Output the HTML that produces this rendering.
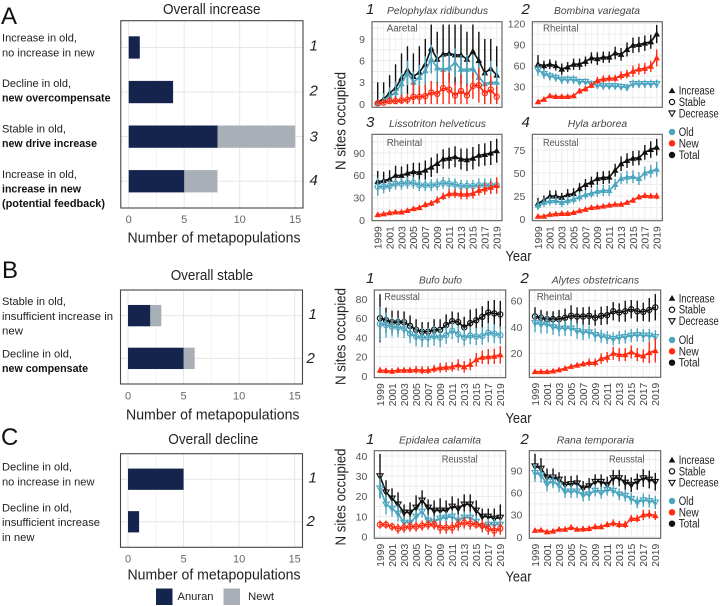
<!DOCTYPE html>
<html lang="en">
<head>
<meta charset="utf-8">
<title>Metapopulation trends</title>
<style>
html,body{margin:0;padding:0;background:#fff;}
body{width:721px;height:606px;overflow:hidden;}
svg{display:block;font-family:"Liberation Sans",sans-serif;}
.lab{font-size:11px;fill:#222;}
.b{font-weight:bold;fill:#111;}
.ttl{font-size:14.5px;fill:#222;}
.letter{font-size:24px;fill:#111;}
.num{font-size:15px;font-style:italic;fill:#222;}
.leg{font-size:11.5px;fill:#222;}
</style>
</head>
<body>
<svg id="fig" xmlns="http://www.w3.org/2000/svg" width="721" height="606" viewBox="0 0 721 606">
<g>
<text class="letter" x="1" y="24">A</text>
<text class="letter" x="2" y="278">B</text>
<text class="letter" x="1" y="445">C</text>
</g>
<g>
<text class="lab" x="2" y="41.5" textLength="75" lengthAdjust="spacingAndGlyphs">Increase in old,</text>
<text class="lab" x="2" y="56.5" textLength="92.5" lengthAdjust="spacingAndGlyphs">no increase in new</text>
<text class="lab" x="2" y="87" textLength="69" lengthAdjust="spacingAndGlyphs">Decline in old,</text>
<text class="lab b" x="2" y="101.5" textLength="108.5" lengthAdjust="spacingAndGlyphs">new overcompensate</text>
<text class="lab" x="2" y="132.5" textLength="64" lengthAdjust="spacingAndGlyphs">Stable in old,</text>
<text class="lab b" x="2" y="147" textLength="95" lengthAdjust="spacingAndGlyphs">new drive increase</text>
<text class="lab" x="2" y="178" textLength="75" lengthAdjust="spacingAndGlyphs">Increase in old,</text>
<text class="lab b" x="2" y="192.5" textLength="79" lengthAdjust="spacingAndGlyphs">increase in new</text>
<text class="lab b" x="2" y="207" textLength="103" lengthAdjust="spacingAndGlyphs">(potential feedback)</text>
</g>
<g>
<text class="lab" x="2" y="305" textLength="64" lengthAdjust="spacingAndGlyphs">Stable in old,</text>
<text class="lab" x="2" y="320" textLength="111" lengthAdjust="spacingAndGlyphs">insufficient increase in</text>
<text class="lab" x="2" y="334.5" textLength="21" lengthAdjust="spacingAndGlyphs">new</text>
<text class="lab" x="2" y="357.5" textLength="70" lengthAdjust="spacingAndGlyphs">Decline in old,</text>
<text class="lab b" x="2" y="372" textLength="86" lengthAdjust="spacingAndGlyphs">new compensate</text>
</g>
<g>
<text class="lab" x="2" y="470.5" textLength="70" lengthAdjust="spacingAndGlyphs">Decline in old,</text>
<text class="lab" x="2" y="485.5" textLength="92.5" lengthAdjust="spacingAndGlyphs">no increase in new</text>
<text class="lab" x="2" y="511.5" textLength="70" lengthAdjust="spacingAndGlyphs">Decline in old,</text>
<text class="lab" x="2" y="526" textLength="98" lengthAdjust="spacingAndGlyphs">insufficient increase</text>
<text class="lab" x="2" y="541" textLength="32.5" lengthAdjust="spacingAndGlyphs">in new</text>
</g>
<g>
<rect x="156" y="588.5" width="16.5" height="16.5" fill="#14244d"/>
<text class="lab" x="177.5" y="600" textLength="36" lengthAdjust="spacingAndGlyphs">Anuran</text>
<rect x="223.5" y="588.5" width="16.5" height="16.5" fill="#a9afb7"/>
<text class="lab" x="248" y="600" textLength="26" lengthAdjust="spacingAndGlyphs">Newt</text>
</g>
<g>
<text class="ttl" transform="translate(345.5,170) rotate(-90)" textLength="98" lengthAdjust="spacingAndGlyphs">N sites occupied</text>
<text class="ttl" transform="translate(345.5,385) rotate(-90)" textLength="97" lengthAdjust="spacingAndGlyphs">N sites occupied</text>
<text class="ttl" transform="translate(345.5,545.5) rotate(-90)" textLength="97" lengthAdjust="spacingAndGlyphs">N sites occupied</text>
</g>
<g>
<text class="ttl" x="505.5" y="261" textLength="26" lengthAdjust="spacingAndGlyphs">Year</text>
<text class="ttl" x="505.5" y="423" textLength="26" lengthAdjust="spacingAndGlyphs">Year</text>
<text class="ttl" x="505.5" y="581.5" textLength="26" lengthAdjust="spacingAndGlyphs">Year</text>
</g>
<g id="bars"></g>
<g id="lines"></g>
<g id="legends"></g>
</svg>
<script>
const NS = 'http://www.w3.org/2000/svg';

// ---------- bar chart data ----------
const barTickValues = [0, 5, 10, 15];
const barAAnuran = [1, 4, 8, 5];
const barANewt = [0, 0, 7, 3];
const barBAnuran = [2, 5];
const barBNewt = [1, 1];
const barCAnuran = [5, 1];
const barCNewt = [0, 0];
const barALabels = ['1', '2', '3', '4'];
const barBLabels = ['1', '2'];
const barCLabels = ['1', '2'];

// ---------- line chart data ----------
const years = [1999,2000,2001,2002,2003,2004,2005,2006,2007,2008,2009,2010,2011,2012,2013,2014,2015,2016,2017,2018,2019];

const a1Total = [0.3,0.7,1.5,2.2,3.6,4.7,3.8,4.4,5.5,7.7,6.2,6.9,7.0,6.8,6.8,6.2,7.3,6.0,4.3,4.9,4.0];
const a1TotalErr = [2.7,2.3,2.5,3.3,3.4,3.3,3.2,3.6,3.5,3.3,3.8,4.1,4.0,4.2,4.2,3.8,3.7,4.0,4.7,4.1,4.0];
const a1Old = [0.1,0.5,1.1,1.6,2.8,4.3,3.0,3.7,4.6,6.2,5.0,4.8,5.0,5.7,4.8,4.8,4.9,3.7,2.8,3.0,3.0];
const a1OldErr = [0.5,1.0,1.2,1.5,1.5,1.7,1.5,1.7,2.0,2.0,2.0,2.0,2.0,2.0,2.0,2.0,2.0,2.0,1.6,3.0,2.2];
const a1New = [0.1,0.2,0.4,0.4,0.5,0.6,1.0,1.0,1.1,1.6,1.4,2.2,2.0,1.2,1.8,1.2,2.5,2.6,1.5,2.0,1.0];
const a1NewErr = [0.3,0.5,0.6,0.7,0.8,0.9,2.0,1.5,1.6,1.6,1.5,2.5,2.3,1.8,2.3,1.5,1.8,2.4,1.5,2.0,1.5];

const a2Total = [62,60,62,60,55,58,62,62,66,71,70,72,72,78,76,83,89,90,92,94,105];
const a2TotalErr = [13,7,7,7,8,7,8,8,7,8,9,8,8,9,9,10,11,11,11,10,13];
const a2Old = [54,48,45,43,40,40,40,37,37,34,32,31,31,31,30,29,34,34,34,34,34];
const a2OldErr = [8,7,6,6,6,6,6,5,5,5,5,5,5,5,5,5,6,6,6,6,6];
const a2New = [8.5,12,17,16,16,16,17,24,27,32,39,41,42,42,46,48,52,55,56,59,71];
const a2NewErr = [2,2,2,2,3,3,3,4,4,4,5,5,5,5,6,6,8,8,8,8,12];

const a3Total = [52,53,55,60,60,63,65,64,67,71,76,82,83,85,82,81,83,87,88,90,93];
const a3TotalErr = [14,12,12,13,12,12,12,13,13,13,13,13,14,14,14,15,15,15,15,16,16];
const a3Old = [45,45,46,49,49,50,50,47,47,47,48,50,49,48,46,46,46,47,47,47,47];
const a3OldErr = [12,9,8,8,8,8,8,8,8,8,8,8,8,8,8,8,8,9,9,9,9];
const a3New = [7.5,8.5,10,11,11,13,15.5,17,21,23,27,32,35.5,36,35,35,36,40,42,44,46.5];
const a3NewErr = [2,2,2,2,2,3,3,3,4,4,5,5,6,6,7,7,7,7,8,9,11];

const a4Total = [17,20.5,25,25,23.5,26.5,27.5,33,37.5,40,44,45,45.5,53,60,63.5,66,66.5,72.5,75.5,78];
const a4TotalErr = [6,5,6,6,5,6,6,6,6,6,7,7,7,7,8,8,8,8,8,9,9];
const a4Old = [15,18,19.5,20,18,20,21.5,24,26.5,28,30,31,31,37.5,44,45.5,46,44,50,52,54];
const a4OldErr = [5,5,5,5,5,5,5,5,5,5,6,6,6,6,6,7,7,7,7,7,8];
const a4New = [3,3,5,5.5,6,6,7,9,10.5,12.5,13,14,15,16,16,18,20.5,24,25.5,25,25];
const a4NewErr = [1,1,1.5,1.5,1.5,1.5,1.5,2,2,2,2,2,2,2,2,2,3,3,3,3,3.5];

const b1Total = [60,58,56,56,56,52,48,46,46,48,48,53,57,56,50.5,55,58,61.5,66,65,64];
const b1TotalErr = [25,13,12,12,11,11,11,10,10,11,11,11,10,10,11,14,12,11,12,14,14];
const b1Old = [54,53,51,50.5,49.5,44,41,40,40,41.5,40,42.5,47,43.5,40,42,41,41.5,45,44,42.5];
const b1OldErr = [18,13,10,10,10,10,10,10,10,10,10,9,9,9,9,9,9,9,10,10,9];
const b1New = [6,5.5,5,6,6,6,6.5,6,6,7.5,8.5,9,9.5,11.5,9.5,12,17,19.5,20,20.5,22];
const b1NewErr = [3,3,3,3,3,3,4,4,4,4,5,5,5,6,6,6,7,7,8,8,9];

const b2Total = [48,47,46,46,46,47,48.5,48,48,48.5,47,48.5,49,52,51,52,53.5,52,51.5,53,55];
const b2TotalErr = [7,6,6,6,7,7,8,7,7,7,6,7,7,7,7,8,7,8,7,9,10];
const b2Old = [43,42,42,40,39,39,39,37,36,36,34,33,32,31,32,32.5,33.5,34,33.5,33.5,32.5];
const b2OldErr = [7,7,7,6,6,6,6,6,6,5,5,5,5,5,5,5,5,5,5,5,5];
const b2New = [6,6,6,6.5,7.5,8.5,10,11,12,13,13,16,17,20,19,19,21,19,18,20.5,22];
const b2NewErr = [1,1,1,1,1.5,1.5,2,2,2,3,3,4,4,5,5,5,5,5,5,8,9];

const c1Total = [30,22,19,16,12,12,14.5,18,14.5,13,13,13,15,14,16,16,13,10,10,9,9.5];
const c1TotalErr = [11,6,5,6,4,5,6,5,4,5,6,5,5,5,5,5,5,4,4,5,6.5];
const c1Old = [24,16,14,11.5,7,7,10,12.5,8,7.5,9,9.5,10,8,9.5,9.5,7.5,5,6,6,6];
const c1OldErr = [5,5,4,4,3,3,3,3,3,3,3,3,3,3,3,3,3,3,3,3,3];
const c1New = [6,6,5,4,4.5,5,5,5.5,6,6,4.5,4.5,4.5,6,7,6.5,6,5.5,4,3,4];
const c1NewErr = [2,2,2,2.5,2.5,2.5,2.5,2.5,2.5,2.5,3,3,3,3,3,3,2,3,3,3,3];

const c2Total = [96,93,81,81,78,71,72,73,66,69,75,75,71,80,80,74,71,75,80,78,75];
const c2TotalErr = [17,14,12,12,10,12,11,11,10,11,10,10,11,11,11,10,10,11,12,12,12];
const c2Old = [87,84,72,75,70,62,62,62,57,58,63,60,64,63,58,56,52,47,50,49,47];
const c2OldErr = [12,10,10,9,9,9,9,9,9,9,8,8,8,8,8,8,8,8,9,9,9];
const c2New = [9,9.5,7,8,10.5,10.5,13,10.5,11,11.5,14,14,17,19,17,17,25,25,30,31,29];
const c2NewErr = [3,3,3,3,3,3,4,3,4,4,4,4,4,5,5,5,5,5,7,6,6];

const a1Ticks = [0,3,6,9];
const a2Ticks = [30,60,90,120];
const a3Ticks = [0,30,60,90];
const a4Ticks = [0,25,50,75];
const b1Ticks = [0,20,40,60,80];
const b2Ticks = [20,40,60];
const c1Ticks = [0,10,20,30,40];
const c2Ticks = [0,30,60,90];

const COL = {total:'#111111', old:'#4ba5bf', 'new':'#ff2a12', frame:'#5c5c5c', grid:'#ececec'};

function add(tag, attrs, parent) {
  const el = document.createElementNS(NS, tag);
  for (const k in attrs) el.setAttribute(k, attrs[k]);
  parent.appendChild(el);
  return el;
}

// ---------- bar charts ----------
const barPanels = [
  {id:'a', box:[120.8,20.7,303,208], x0:128.7, x15:295.2, anuran:barAAnuran, newt:barANewt, nums:barALabels,
   numX:[309.5,309.5,309.5,309.5], numY:[50.7,95.7,141.5,185], title:'Overall increase', tx:163, ty:14, tw:97.5,
   ax:127.5, ay:242.5, aw:173, tickY:223},
  {id:'b', box:[120.5,290,302.5,384], x0:128, x15:294.7, anuran:barBAnuran, newt:barBNewt, nums:barBLabels,
   numX:[308.5,306.5], numY:[319,363], title:'Overall stable', tx:170.7, ty:280, tw:82.5,
   ax:126, ay:419.5, aw:173.5, tickY:399.5},
  {id:'c', box:[120.5,453.7,302.5,547.3], x0:128, x15:294.7, anuran:barCAnuran, newt:barCNewt, nums:barCLabels,
   numX:[308.5,306.5], numY:[482.3,526], title:'Overall decline', tx:168.3, ty:444, tw:90,
   ax:127.5, ay:579.5, aw:173, tickY:562.7}
];
const barRoot = document.getElementById('bars');
barPanels.forEach(function (p) {
  const g = add('g', {}, barRoot);
  
  
  const sx = function (v) { return p.x0 + (p.x15 - p.x0) * v / 15; };
  const n = p.anuran.length;
  const unit = (p.box[3] - p.box[1]) / (n - 1 + 1.2);
  const sy = function (i) { return p.box[1] + unit * (0.6 + i); };
  for (let v = 2.5; v <= 15; v += 5) {
    const minor = add('line', {x1:sx(v), x2:sx(v), y1:p.box[1], y2:p.box[3], stroke:'#f3f3f3', 'stroke-width':1}, g);
    
    
  }
  barTickValues.forEach(function (v) {
    const gl = add('line', {x1:sx(v), x2:sx(v), y1:p.box[1], y2:p.box[3], stroke:'#e6e6e6', 'stroke-width':1}, g);
    
    
    const tl = add('text', {x:sx(v), y:p.tickY, 'text-anchor':'middle', 'font-size':11, fill:'#666'}, g);
    
    
    tl.textContent = v;
  });
  for (let i = 0; i < n; i++) {
    const yc = sy(i);
    const hg = add('line', {x1:p.box[0], x2:p.box[2], y1:yc, y2:yc, stroke:'#e6e6e6', 'stroke-width':1}, g);
    
    
    const h = unit * 0.5;
    if (p.newt[i] > 0) {
      const rn = add('rect', {x:sx(p.anuran[i]), y:yc - h / 2, width:sx(p.newt[i]) - sx(0), height:h, fill:'#a9afb7'}, g);
      
      
    }
    const ra = add('rect', {x:sx(0), y:yc - h / 2, width:sx(p.anuran[i]) - sx(0), height:h, fill:'#14244d'}, g);
    
    
    const num = add('text', {x:p.numX[i], y:p.numY[i], 'class':'num'}, g);
    
    
    num.textContent = p.nums[i];
  }
  const fr = add('rect', {x:p.box[0], y:p.box[1], width:p.box[2] - p.box[0], height:p.box[3] - p.box[1], fill:'none', stroke:'#444', 'stroke-width':1.1}, g);
  
  
  const t = add('text', {x:p.tx, y:p.ty, 'class':'ttl', textLength:p.tw, lengthAdjust:'spacingAndGlyphs'}, g);
  
  
  t.textContent = p.title;
  const at = add('text', {x:p.ax, y:p.ay, 'class':'ttl', textLength:p.aw, lengthAdjust:'spacingAndGlyphs'}, g);
  
  
  at.textContent = 'Number of metapopulations';
});

// ---------- line charts ----------
const linePanels = [
  {id:'a1', num:'1', numX:366, numY:14, title:'Pelophylax ridibundus', tx:387, ty:14, tw:101, site:'Aaretal', sx:386.7, sy:31.7, sw:31,
   box:[372,21.7,502,107.3], x0:377.7, x1:496.7, v0:0, y0:104, v1:9, y1:39, ticks:a1Ticks, yearLabels:false,
   total:a1Total, totalErr:a1TotalErr, old:a1Old, oldErr:a1OldErr, nw:a1New, nwErr:a1NewErr, mk:['up','up','circle']},
  {id:'a2', num:'2', numX:521.5, numY:14, title:'Bombina variegata', tx:554, ty:14, tw:86, site:'Rheintal', sx:543, sy:31.7, sw:35.5,
   box:[532.3,21.7,662.3,107.3], x0:538, x1:656.7, v0:30, y0:86.7, v1:120, y1:23.5, ticks:a2Ticks, yearLabels:false,
   total:a2Total, totalErr:a2TotalErr, old:a2Old, oldErr:a2OldErr, nw:a2New, nwErr:a2NewErr, mk:['up','down','up']},
  {id:'a3', num:'3', numX:366, numY:127, title:'Lissotriton helveticus', tx:389, ty:127, tw:97, site:'Rheintal', sx:386.7, sy:146, sw:35.5,
   box:[372,134.3,502,220.7], x0:377.7, x1:496.7, v0:0, y0:220.3, v1:90, y1:153, ticks:a3Ticks, yearLabels:true,
   total:a3Total, totalErr:a3TotalErr, old:a3Old, oldErr:a3OldErr, nw:a3New, nwErr:a3NewErr, mk:['up','circle','up']},
  {id:'a4', num:'4', numX:521.5, numY:127, title:'Hyla arborea', tx:567.7, ty:127, tw:59.5, site:'Reusstal', sx:543, sy:146, sw:35.5,
   box:[532.3,134.3,662.3,220.7], x0:538, x1:656.7, v0:0, y0:219, v1:75, y1:150, ticks:a4Ticks, yearLabels:true,
   total:a4Total, totalErr:a4TotalErr, old:a4Old, oldErr:a4OldErr, nw:a4New, nwErr:a4NewErr, mk:['up','up','up']},
  {id:'b1', num:'1', numX:366, numY:283, title:'Bufo bufo', tx:419, ty:283.3, tw:43, site:'Reusstal', sx:384.3, sy:300, sw:35.5,
   box:[374.3,290,505.7,377.7], x0:380, x1:500.3, v0:0, y0:376, v1:80, y1:299, ticks:b1Ticks, yearLabels:true,
   total:b1Total, totalErr:b1TotalErr, old:b1Old, oldErr:b1OldErr, nw:b1New, nwErr:b1NewErr, mk:['circle','circle','up']},
  {id:'b2', num:'2', numX:520.5, numY:283, title:'Alytes obstetricans', tx:551.7, ty:283.3, tw:87.5, site:'Rheintal', sx:536.7, sy:300, sw:35.5,
   box:[529.3,290,660.7,377.3], x0:535, x1:655.3, v0:20, y0:353.3, v1:60, y1:300.7, ticks:b2Ticks, yearLabels:true,
   total:b2Total, totalErr:b2TotalErr, old:b2Old, oldErr:b2OldErr, nw:b2New, nwErr:b2NewErr, mk:['circle','down','up']},
  {id:'c1', num:'1', numX:366, numY:444, title:'Epidalea calamita', tx:399, ty:443.7, tw:82, site:'Reusstal', sx:441.7, sy:462.7, sw:36,
   box:[374.3,450.7,505.7,538.3], x0:380, x1:500.3, v0:0, y0:536.7, v1:40, y1:456, ticks:c1Ticks, yearLabels:true,
   total:c1Total, totalErr:c1TotalErr, old:c1Old, oldErr:c1OldErr, nw:c1New, nwErr:c1NewErr, mk:['down','down','circle']},
  {id:'c2', num:'2', numX:520.5, numY:444, title:'Rana temporaria', tx:556.7, ty:443.7, tw:77.5, site:'Reusstal', sx:609, sy:462.7, sw:35.5,
   box:[529.3,450.7,660.7,538.3], x0:535, x1:655.3, v0:0, y0:537, v1:90, y1:470.7, ticks:c2Ticks, yearLabels:true,
   total:c2Total, totalErr:c2TotalErr, old:c2Old, oldErr:c2OldErr, nw:c2New, nwErr:c2NewErr, mk:['down','down','up']}
];

function markerAt(parent, kind, x, y, color) {
  let el;
  if (kind === 'circle') {
    el = add('circle', {cx:x, cy:y, r:2.6, fill:'none', stroke:color, 'stroke-width':1.2}, parent);
  } else if (kind === 'up') {
    const r = 3.3;
    el = add('polygon', {points:(x)+','+(y-r)+' '+(x+r)+','+(y+r*0.75)+' '+(x-r)+','+(y+r*0.75), fill:color}, parent);
  } else {
    const r = 3.1;
    el = add('polygon', {points:(x)+','+(y+r)+' '+(x+r)+','+(y-r*0.75)+' '+(x-r)+','+(y-r*0.75), fill:'none', stroke:color, 'stroke-width':1.1}, parent);
  }
  return el;
}

const lineRoot = document.getElementById('lines');
linePanels.forEach(function (p) {
  const g = add('g', {}, lineRoot);
  
  
  const X = function (yr) { return p.x0 + (p.x1 - p.x0) * (yr - years[0]) / (years[years.length - 1] - years[0]); };
  const Y = function (v) { return p.y0 + (p.y1 - p.y0) * (v - p.v0) / (p.v1 - p.v0); };
  const clampY = function (py) { return Math.min(p.box[3], Math.max(p.box[1], py)); };

  years.forEach(function (yr, i) {
    const gv = add('line', {x1:X(yr), x2:X(yr), y1:p.box[1], y2:p.box[3], stroke:COL.grid, 'stroke-width':i % 2 ? 0.6 : 1}, g);
    
    
  });
  const step = p.ticks[1] - p.ticks[0];
  for (let v = p.ticks[0] - step; v <= p.ticks[p.ticks.length - 1] + step; v += step / 2) {
    const py = Y(v);
    if (py < p.box[1] || py > p.box[3]) continue;
    const gh = add('line', {x1:p.box[0], x2:p.box[2], y1:py, y2:py, stroke:COL.grid, 'stroke-width':1}, g);
    
    
  }

  const seriesList = [
    {name:'total', vals:p.total, errs:p.totalErr, color:COL.total, kind:p.mk[0]},
    {name:'old', vals:p.old, errs:p.oldErr, color:COL.old, kind:p.mk[1]},
    {name:'new', vals:p.nw, errs:p.nwErr, color:COL['new'], kind:p.mk[2]}
  ];
  seriesList.forEach(function (s) {
    const sg = add('g', {}, g);
    
    
    s.vals.forEach(function (v, i) {
      const lo = Math.max(0, v - s.errs[i]);
      const hi = v + s.errs[i];
      const eb = add('line', {x1:X(years[i]), x2:X(years[i]), y1:clampY(Y(lo)), y2:clampY(Y(hi)), stroke:s.color, 'stroke-width':1.4}, sg);
      
      
    });
    const pts = s.vals.map(function (v, i) { return X(years[i]).toFixed(2) + ',' + Y(v).toFixed(2); }).join(' ');
    const ln = add('polyline', {points:pts, fill:'none', stroke:s.color, 'stroke-width':1.6, 'stroke-linejoin':'round'}, sg);
    
    
    s.vals.forEach(function (v, i) {
      const m = markerAt(sg, s.kind, X(years[i]), Y(v), s.color);
      
      
    });
  });

  const fr = add('rect', {x:p.box[0], y:p.box[1], width:p.box[2] - p.box[0], height:p.box[3] - p.box[1], fill:'none', stroke:COL.frame, 'stroke-width':1.1}, g);
  
  

  p.ticks.forEach(function (v) {
    const tl = add('text', {x:p.box[0] - 7, y:Y(v) + 3.8, 'text-anchor':'end', 'font-size':10.5, fill:'#555'}, g);
    
    
    tl.textContent = v;
  });
  if (p.yearLabels) {
    years.forEach(function (yr, i) {
      if (i % 2) return;
      const top = p.box[3] + 5.5;
      const tl = add('text', {transform:'translate(' + (X(yr) + 3.8) + ',' + top + ') rotate(-90)', 'text-anchor':'end', 'font-size':10.5, textLength:23, lengthAdjust:'spacingAndGlyphs', fill:'#444'}, g);
      
      
      tl.textContent = yr;
    });
  }

  const num = add('text', {x:p.numX, y:p.numY, 'class':'num'}, g);
  
  
  num.textContent = p.num;
  const t = add('text', {x:p.tx, y:p.ty, 'font-size':10.5, 'font-style':'italic', fill:'#444', textLength:p.tw, lengthAdjust:'spacingAndGlyphs'}, g);
  
  
  t.textContent = p.title;
  const st = add('text', {x:p.sx, y:p.sy, 'font-size':10, fill:'#555', textLength:p.sw, lengthAdjust:'spacingAndGlyphs'}, g);
  
  
  st.textContent = p.site;
});

// ---------- trend / age legends ----------
const legendTrendLabels = ['Increase', 'Stable', 'Decrease'];
const legendTrendKinds = ['up', 'circle', 'down'];
const legendAgeLabels = ['Old', 'New', 'Total'];
const legendAgeColors = [COL.old, COL['new'], COL.total];
const legendTrendWidths = [36, 27, 40];
const legendAgeWidths = [15, 20, 21];
const legendPlacements = [
  {id:'a', trendY:[94.7,106,117.3], ageY:[136,147.3,159]},
  {id:'b', trendY:[302.3,313.7,325], ageY:[344,355.3,366.7]},
  {id:'c', trendY:[464,475.3,486.7], ageY:[505,516.3,527.7]}
];
const legendRoot = document.getElementById('legends');
legendPlacements.forEach(function (p) {
  const g = add('g', {}, legendRoot);
  
  
  legendTrendLabels.forEach(function (lab, i) {
    const m = markerAt(g, legendTrendKinds[i], 672, p.trendY[i] - 4, '#111');
    
    
    const t = add('text', {x:678.7, y:p.trendY[i], 'class':'leg', textLength:legendTrendWidths[i], lengthAdjust:'spacingAndGlyphs'}, g);
    
    
    t.textContent = lab;
  });
  legendAgeLabels.forEach(function (lab, i) {
    const c = add('circle', {cx:672, cy:p.ageY[i] - 4, r:3.2, fill:legendAgeColors[i]}, g);
    
    
    const t = add('text', {x:678.7, y:p.ageY[i], 'class':'leg', textLength:legendAgeWidths[i], lengthAdjust:'spacingAndGlyphs'}, g);
    
    
    t.textContent = lab;
  });
});
</script>
</body>
</html>
